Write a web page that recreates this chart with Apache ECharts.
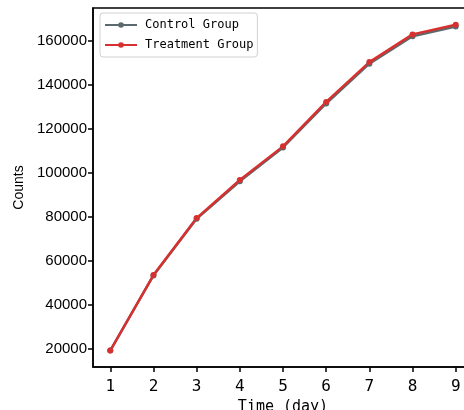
<!DOCTYPE html>
<html><head><meta charset="utf-8">
<script src="https://cdn.jsdelivr.net/npm/echarts@6/dist/echarts.min.js"></script>
<style>html,body{margin:0;padding:0;background:#fff}#c{width:464px;height:410px}</style>
</head><body><div id="c"></div>
<script>
const days = [1,2,3,4,5,6,7,8,9];
const controlGroup = [19300, 53400, 79200, 96200, 111600, 131600, 149700, 162200, 166600];
const treatmentGroup = [19300, 53600, 79500, 96800, 112100, 132300, 150400, 163000, 167400];
const xTicks = [1,2,3,4,5,6,7,8,9];
const yTicks = [20000,40000,60000,80000,100000,120000,140000,160000];

const mono = '"DejaVu Sans Mono", "Liberation Mono", monospace';
const sans = '"Liberation Sans", Arial, sans-serif';
const chart = echarts.init(document.getElementById('c'), null, {renderer:'canvas'});
chart.setOption({
  animation:false,
  backgroundColor:'#fff',
  grid:{left:93, top:8, width:380, height:359, show:true, borderColor:'#000', borderWidth:1.5,
        containLabel:false, outerBoundsMode:'none'},
  legend:{
    left:100, top:13, orient:'vertical', padding:[6,4,6,4], itemGap:8,
    itemWidth:32, itemHeight:7,
    borderColor:'#d0d0d0', borderWidth:1, borderRadius:3, backgroundColor:'#fff',
    textStyle:{fontFamily:mono, fontSize:12, color:'#000', padding:[0,0,0,3]},
    data:['Control Group','Treatment Group']
  },
  xAxis:{
    type:'value', min:0.6, max:9.4,
    name:'Time (day)', nameLocation:'middle', nameGap:31,
    nameTextStyle:{fontFamily:mono, fontSize:15, color:'#000'},
    axisLine:{show:true, onZero:false, lineStyle:{color:'#000', width:1.5}},
    axisTick:{show:true, length:5, lineStyle:{color:'#000', width:1.5}, customValues:xTicks},
    axisLabel:{fontFamily:mono, fontSize:16, color:'#000', margin:12, customValues:xTicks},
    splitLine:{show:false}
  },
  yAxis:{
    type:'value', min:11800, max:175000,
    name:'Counts', nameLocation:'middle', nameGap:66,
    nameTextStyle:{fontFamily:sans, fontSize:14, color:'#000'},
    axisLine:{show:true, lineStyle:{color:'#000', width:1.5}},
    axisTick:{show:true, length:5, lineStyle:{color:'#000', width:1.5}, customValues:yTicks},
    axisLabel:{fontFamily:sans, fontSize:15, color:'#000', margin:6, customValues:yTicks,
      formatter:v=>String(v)},
    splitLine:{show:false}
  },
  series:[
    {name:'Control Group', type:'line', data:days.map((d,i)=>[d,controlGroup[i]]),
     color:'#5b6a6c', symbol:'circle', symbolSize:6, showSymbol:true,
     lineStyle:{width:2.5, color:'#5b6a6c'}, itemStyle:{color:'#5b6a6c'}},
    {name:'Treatment Group', type:'line', data:days.map((d,i)=>[d,treatmentGroup[i]]),
     color:'#d8302f', symbol:'circle', symbolSize:6, showSymbol:true,
     lineStyle:{width:2.5, color:'#d8302f'}, itemStyle:{color:'#d8302f'}}
  ]
});
</script></body></html>
